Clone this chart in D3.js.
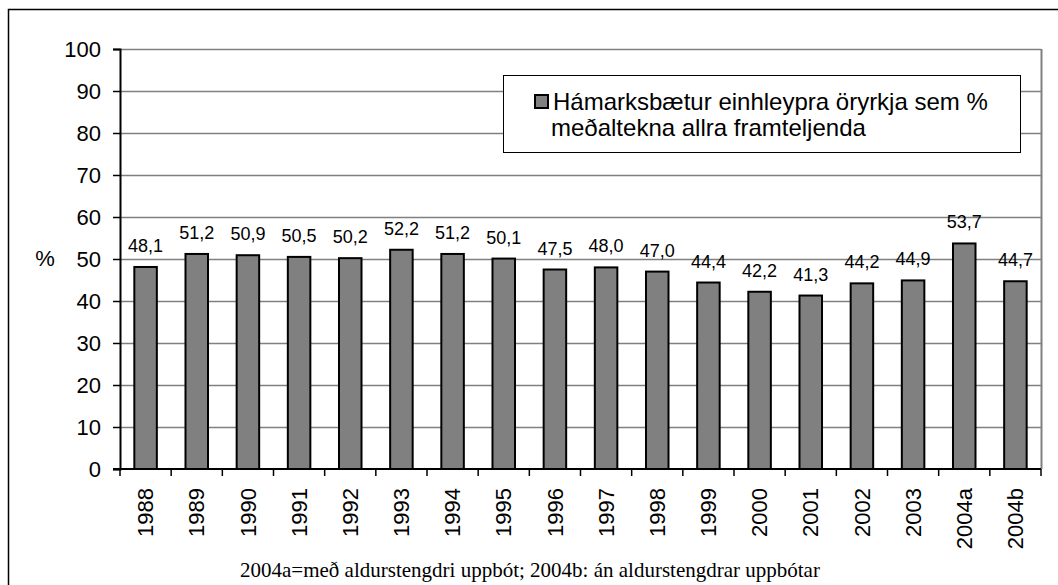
<!DOCTYPE html>
<html>
<head>
<meta charset="utf-8">
<script src="https://cdn.jsdelivr.net/npm/d3@7"></script>
<style>
  body { margin: 0; background: #fff; }
  svg { display: block; font-family: "Liberation Sans", Arial, sans-serif; }
</style>
</head>
<body>
<div id="chart"></div>
<script>
// gögn lesin af myndinni
var years = ["1988","1989","1990","1991","1992","1993","1994","1995","1996","1997",
             "1998","1999","2000","2001","2002","2003","2004a","2004b"];
var values = [48.1,51.2,50.9,50.5,50.2,52.2,51.2,50.1,47.5,48.0,
              47.0,44.4,42.2,41.3,44.2,44.9,53.7,44.7];
var yTicks = [0,10,20,30,40,50,60,70,80,90,100];
var legendLines = ["Hámarksbætur einhleypra öryrkja sem %", "meðaltekna allra framteljenda"];
var footnote = "2004a=með aldurstengdri uppbót; 2004b: án aldurstengdrar uppbótar";

var W = 1058, H = 585;
var margin = {top: 49, right: 17, bottom: 116, left: 120};
var width = W - margin.left - margin.right;
var height = H - margin.top - margin.bottom;

var svg = d3.select("#chart").append("svg")
  .attr("width", W)
  .attr("height", H);

// ytri rammi (nær út fyrir myndina til hægri og niður)
svg.append("rect")
  .attr("x", 8.5).attr("y", 9.5)
  .attr("width", W + 20).attr("height", H + 20)
  .attr("fill", "none").attr("stroke", "#000").attr("stroke-width", 1.5);

var g = svg.append("g")
  .attr("transform", "translate(" + margin.left + "," + margin.top + ")");

var x = d3.scaleBand()
  .domain(years)
  .range([0, width])
  .paddingInner(0.56)
  .paddingOuter(0.28);

var y = d3.scaleLinear()
  .domain([0, 100])
  .range([height, 0]);

// hnitalínur
g.selectAll(".grid")
  .data(yTicks.slice(1))
  .enter().append("line")
  .attr("class", "grid")
  .attr("x1", 0).attr("x2", width)
  .attr("y1", function(d) { return Math.round(y(d)) + 0.5; })
  .attr("y2", function(d) { return Math.round(y(d)) + 0.5; })
  .attr("stroke", "#808080").attr("stroke-width", 1.5);

// hægri brún teiknisvæðis
g.append("line")
  .attr("x1", width + 0.5).attr("x2", width + 0.5)
  .attr("y1", 0).attr("y2", height)
  .attr("stroke", "#808080").attr("stroke-width", 2);

// súlur
g.selectAll(".bar")
  .data(values)
  .enter().append("rect")
  .attr("class", "bar")
  .attr("x", function(d, i) { return x(years[i]); })
  .attr("y", function(d) { return y(d); })
  .attr("width", x.bandwidth())
  .attr("height", function(d) { return height - y(d); })
  .attr("fill", "#808080")
  .attr("stroke", "#000")
  .attr("stroke-width", 2);

// gildi ofan á súlum
g.selectAll(".val")
  .data(values)
  .enter().append("text")
  .attr("class", "val")
  .attr("x", function(d, i) { return x(years[i]) + x.bandwidth() / 2; })
  .attr("y", function(d) { return y(d) - 15; })
  .attr("text-anchor", "middle")
  .attr("font-size", 18)
  .text(function(d) { return d.toFixed(1).replace(".", ","); });

// y-ás
var yAxis = g.append("g")
  .call(d3.axisLeft(y).tickValues(yTicks).tickSize(7).tickPadding(12));
yAxis.select(".domain").attr("stroke", "#000").attr("stroke-width", 2);
yAxis.selectAll(".tick line").attr("stroke", "#000").attr("stroke-width", 1.5);
yAxis.selectAll(".tick text")
  .attr("font-size", 22)
  .attr("font-family", "Liberation Sans, Arial, sans-serif")
  .attr("fill", "#000");

// x-ás: strik á mörkum flokka
var step = x.step();
g.selectAll(".xtick")
  .data(d3.range(years.length + 1))
  .enter().append("line")
  .attr("class", "xtick")
  .attr("x1", function(i) { return i * step; })
  .attr("x2", function(i) { return i * step; })
  .attr("y1", height).attr("y2", height + 7)
  .attr("stroke", "#000").attr("stroke-width", 1.5);
g.append("line")
  .attr("x1", -7).attr("x2", width)
  .attr("y1", height).attr("y2", height)
  .attr("stroke", "#000").attr("stroke-width", 2);

g.selectAll(".xlab")
  .data(years)
  .enter().append("text")
  .attr("class", "xlab")
  .attr("transform", function(d) {
    return "translate(" + (x(d) + x.bandwidth() / 2) + "," + (height + 19) + ") rotate(-90)";
  })
  .attr("text-anchor", "end")
  .attr("dy", "0.35em")
  .attr("font-size", 22)
  .text(function(d) { return d; });

// ásheiti
svg.append("text")
  .attr("x", 45).attr("y", 258)
  .attr("text-anchor", "middle")
  .attr("dy", "0.35em")
  .attr("font-size", 22)
  .text("%");

// skýringarreitur
var leg = svg.append("g");
leg.append("rect")
  .attr("x", 503.5).attr("y", 75.5)
  .attr("width", 517).attr("height", 77)
  .attr("fill", "#fff").attr("stroke", "#000").attr("stroke-width", 1);
leg.append("rect")
  .attr("x", 535).attr("y", 95)
  .attr("width", 13).attr("height", 13)
  .attr("fill", "#808080").attr("stroke", "#000").attr("stroke-width", 2);
leg.selectAll(".legtxt")
  .data(legendLines)
  .enter().append("text")
  .attr("class", "legtxt")
  .attr("x", function(d, i) { return i === 0 ? 553 : 551; })
  .attr("y", function(d, i) { return 110 + i * 26; })
  .attr("font-size", 24)
  .text(function(d) { return d; });

// neðanmálsgrein
svg.append("text")
  .attr("x", 530).attr("y", 577)
  .attr("text-anchor", "middle")
  .attr("font-family", "Liberation Serif, Times New Roman, serif")
  .attr("font-size", 21)
  .text(footnote);
</script>
</body>
</html>
